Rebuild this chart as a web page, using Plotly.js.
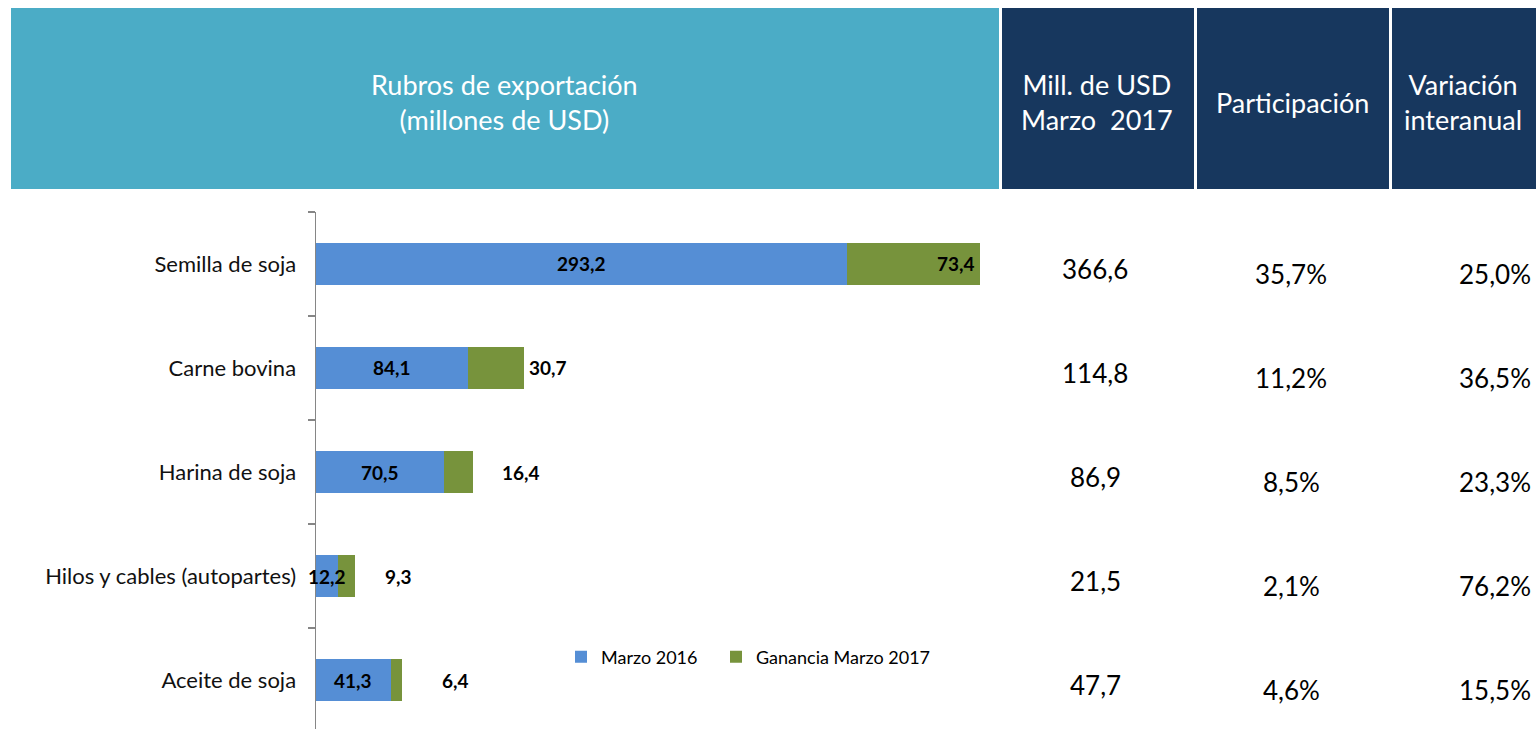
<!DOCTYPE html>
<html>
<head>
<meta charset="utf-8">
<script src="https://cdn.plot.ly/plotly-3.0.1.min.js"></script>
<style>
html,body{margin:0;padding:0;background:#fff;}
#chart{width:1538px;height:729px;}
</style>
</head>
<body>
<div id="chart"></div>
<script>
// ---- data ----
const categories = ["Semilla de soja", "Carne bovina", "Harina de soja", "Hilos y cables (autopartes)", "Aceite de soja"];
const marzo2016 = [293.2, 84.1, 70.5, 12.2, 41.3];
const ganancia2017 = [73.4, 30.7, 16.4, 9.3, 6.4];
const millUSD2017 = [366.6, 114.8, 86.9, 21.5, 47.7];
const participacion = [35.7, 11.2, 8.5, 2.1, 4.6];
const variacion = [25.0, 36.5, 23.3, 76.2, 15.5];
const seriesNames = ["Marzo 2016", "Ganancia Marzo 2017"];
const headerMain = "Rubros de exportación<br>(millones de USD)";
const headerCols = ["Mill. de USD<br>Marzo  2017", "Participación", "Variación<br>interanual"];

// ---- styles ----
const W = 1538, H = 729;
const FONT = "Lato, 'Open Sans', sans-serif";
const BLUE = "#558ed5", GREEN = "#77933c", TEAL = "#4bacc6", NAVY = "#17375e";
const gainLabelShift = [-3, 3, 27, 28, 38];
const px = v => v / W;
const py = v => 1 - v / H;
const fmt = (v, d) => v.toFixed(d).replace(".", ",");
const labelFont = {family: FONT, size: 19, color: "#000", weight: 700};

const traces = [
  {
    type: "bar", orientation: "h", name: seriesNames[0], legend: "legend",
    y: categories, x: marzo2016, width: 0.4,
    marker: {color: BLUE},
    hoverinfo: "x+name"
  },
  {
    type: "bar", orientation: "h", name: seriesNames[1], legend: "legend2",
    y: categories, x: ganancia2017, width: 0.4,
    marker: {color: GREEN},
    hoverinfo: "x+name"
  }
];

const annotations = [];
// bar value labels
categories.forEach((c, i) => {
  annotations.push({
    xref: "x", yref: "y", x: marzo2016[i] / 2, y: c,
    text: fmt(marzo2016[i], 1), showarrow: false, xanchor: "center",
    font: labelFont
  });
  const total = marzo2016[i] + ganancia2017[i];
  annotations.push({
    xref: "x", yref: "y", x: total, y: c,
    text: fmt(ganancia2017[i], 1), showarrow: false,
    xanchor: gainLabelShift[i] < 0 ? "right" : "left",
    xshift: gainLabelShift[i],
    font: labelFont
  });
});
// table columns
categories.forEach((c, i) => {
  annotations.push({xref: "paper", yref: "y", x: px(1095), y: c, yshift: -5,
    text: fmt(millUSD2017[i], 1), showarrow: false, xanchor: "center",
    font: {family: FONT, size: 26, color: "#000"}});
  annotations.push({xref: "paper", yref: "y", x: px(1291), y: c, yshift: -10,
    text: fmt(participacion[i], 1) + "%", showarrow: false, xanchor: "center",
    font: {family: FONT, size: 26, color: "#000"}});
  annotations.push({xref: "paper", yref: "y", x: px(1533), y: c, yshift: -10,
    text: fmt(variacion[i], 1) + "%", showarrow: false, xanchor: "right",
    font: {family: FONT, size: 26, color: "#000"}});
});
// header texts
annotations.push({xref: "paper", yref: "paper", x: px(505), y: py(102), text: headerMain,
  showarrow: false, xanchor: "center", yanchor: "middle",
  font: {family: FONT, size: 27, color: "#fff"}});
const headerX = [1097, 1292, 1463];
headerCols.forEach((t, i) => {
  annotations.push({xref: "paper", yref: "paper", x: px(headerX[i]), y: py(102), text: t,
    showarrow: false, xanchor: "center", yanchor: "middle",
    font: {family: FONT, size: 27, color: "#fff"}});
});

const shapes = [
  {type: "rect", xref: "paper", yref: "paper", x0: px(11), x1: px(999), y0: py(8), y1: py(189), fillcolor: TEAL, line: {width: 0}, layer: "below"},
  {type: "rect", xref: "paper", yref: "paper", x0: px(1002), x1: px(1194), y0: py(8), y1: py(189), fillcolor: NAVY, line: {width: 0}, layer: "below"},
  {type: "rect", xref: "paper", yref: "paper", x0: px(1197), x1: px(1389), y0: py(8), y1: py(189), fillcolor: NAVY, line: {width: 0}, layer: "below"},
  {type: "rect", xref: "paper", yref: "paper", x0: px(1392), x1: px(1536), y0: py(8), y1: py(189), fillcolor: NAVY, line: {width: 0}, layer: "below"}
];

const legendBase = {
  orientation: "h", xanchor: "left", yanchor: "middle", y: py(657),
  font: {family: FONT, size: 18, color: "#000"},
  bgcolor: "rgba(0,0,0,0)"
};

const layout = {
  width: W, height: H,
  margin: {l: 0, r: 0, t: 0, b: 0},
  paper_bgcolor: "#fff", plot_bgcolor: "rgba(0,0,0,0)",
  barmode: "stack",
  showlegend: true,
  legend: Object.assign({}, legendBase, {x: px(561)}),
  legend2: Object.assign({}, legendBase, {x: px(716)}),
  xaxis: {
    domain: [px(316), px(1004)], range: [0, 380],
    visible: false, showgrid: false, zeroline: false, fixedrange: true
  },
  yaxis: {
    domain: [0, py(212)], range: [4.471, -0.5],
    type: "category", categoryorder: "array", categoryarray: categories,
    showline: true, linecolor: "#868686", linewidth: 1.5,
    ticks: "outside", tickson: "boundaries", ticklen: 7, tickcolor: "#868686", tickwidth: 1.5,
    ticklabelstandoff: 14,
    tickfont: {family: FONT, size: 22, color: "#111"},
    showgrid: false, zeroline: false, fixedrange: true
  },
  shapes: shapes,
  annotations: annotations
};

Plotly.newPlot("chart", traces, layout, {displayModeBar: false, staticPlot: true});
</script>
</body>
</html>
